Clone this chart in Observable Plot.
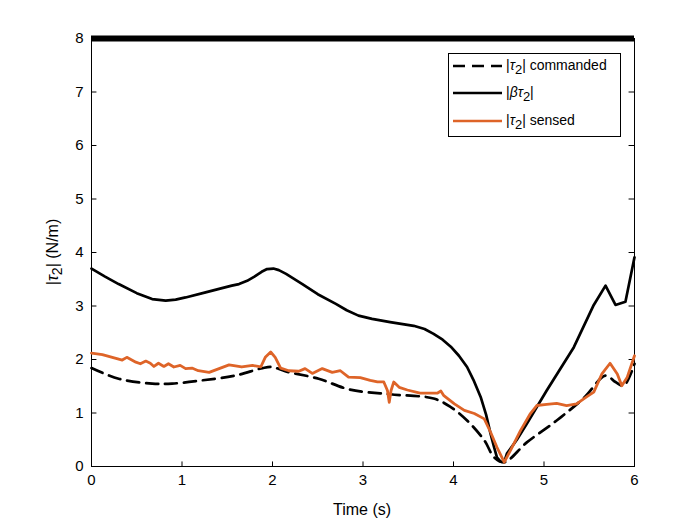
<!DOCTYPE html>
<html><head><meta charset="utf-8">
<script src="https://cdn.jsdelivr.net/npm/d3@7"></script>
<script src="https://cdn.jsdelivr.net/npm/@observablehq/plot@0.6"></script>
<style>
body{margin:0;background:#fff}
svg{font-family:"Liberation Sans",Arial,Helvetica,sans-serif}
</style>
</head><body><div id="chart"></div>
<script>
// Time ticks and value ticks
const xTicks = [0,1,2,3,4,5,6];
const yTicks = [0,1,2,3,4,5,6,7,8];
const upperLimit = [8];

// |beta tau2|
const betaT = [0,0.15,0.30,0.50,0.67,0.82,0.93,1.04,1.25,1.41,1.55,1.63,1.72,1.80,1.88,1.94,2.01,2.07,2.15,2.33,2.50,2.70,2.82,2.95,3.10,3.30,3.56,3.68,3.78,3.88,3.97,4.06,4.15,4.22,4.30,4.36,4.41,4.45,4.48,4.52,4.56,4.59,4.70,4.81,5.03,5.33,5.55,5.68,5.79,5.90,6.00];
const betaV = [3.70,3.55,3.41,3.24,3.13,3.10,3.12,3.16,3.25,3.32,3.38,3.41,3.47,3.55,3.64,3.69,3.70,3.67,3.60,3.41,3.22,3.04,2.92,2.82,2.76,2.70,2.63,2.57,2.48,2.37,2.24,2.07,1.86,1.62,1.30,0.97,0.61,0.35,0.17,0.09,0.08,0.24,0.50,0.80,1.42,2.23,3.02,3.38,3.02,3.08,3.91];

// |tau2| commanded
const cmdT = [0,0.30,0.67,0.89,1.22,1.59,1.89,2.00,2.14,2.51,2.85,3.30,3.78,3.97,4.15,4.34,4.45,4.56,4.81,5.14,5.44,5.68,5.79,5.88,6.00];
const cmdV = [1.84,1.64,1.55,1.55,1.61,1.70,1.84,1.86,1.78,1.64,1.44,1.35,1.27,1.11,0.86,0.49,0.17,0.08,0.45,0.86,1.28,1.70,1.58,1.51,1.92];

// |tau2| sensed
const senT = [0.00,0.12,0.23,0.34,0.39,0.49,0.54,0.60,0.65,0.69,0.74,0.80,0.85,0.91,0.98,1.04,1.11,1.18,1.30,1.41,1.52,1.59,1.66,1.78,1.87,1.92,1.98,2.03,2.09,2.18,2.29,2.36,2.44,2.55,2.66,2.75,2.84,2.97,3.08,3.16,3.23,3.27,3.29,3.31,3.34,3.40,3.49,3.63,3.82,3.86,3.89,4.01,4.12,4.23,4.34,4.41,4.48,4.56,4.63,4.74,4.85,4.92,5.03,5.14,5.25,5.36,5.47,5.55,5.64,5.73,5.81,5.86,5.92,6.00];
const senV = [2.12,2.09,2.04,1.99,2.04,1.95,1.92,1.97,1.93,1.87,1.93,1.87,1.92,1.86,1.89,1.83,1.84,1.79,1.76,1.83,1.90,1.88,1.86,1.89,1.86,2.04,2.14,2.04,1.84,1.79,1.78,1.83,1.74,1.83,1.76,1.79,1.67,1.66,1.61,1.58,1.58,1.42,1.20,1.42,1.58,1.48,1.43,1.37,1.37,1.41,1.33,1.17,1.05,0.99,0.89,0.64,0.36,0.08,0.30,0.67,0.99,1.14,1.16,1.18,1.14,1.17,1.30,1.39,1.73,1.93,1.73,1.51,1.67,2.07];

const orange = "#DE6428";
const beta = betaT.map((t,i)=>({t, v: betaV[i]}));
const cmd = cmdT.map((t,i)=>({t, v: cmdV[i]}));
const sen = senT.map((t,i)=>({t, v: senV[i]}));

const chart = Plot.plot({
  width: 700, height: 525,
  marginLeft: 91, marginRight: 66, marginTop: 38, marginBottom: 59,
  style: {fontFamily: '"Liberation Sans", Arial, sans-serif', color: "#000", background: "#fff"},
  x: {domain: [0,6]},
  y: {domain: [0,8]},
  marks: [
    Plot.frame({stroke: "#000", strokeWidth: 1}),
    Plot.axisX(xTicks, {tickSize: 0, tickPadding: 8, label: null, tickFormat: d3.format("d")}),
    Plot.axisY(yTicks, {tickSize: 0, tickPadding: 8, label: null, tickFormat: d3.format("d")}),
    Plot.ruleX(xTicks, {x: d=>d, y1: 0, y2: 0.085, stroke: "#000"}),
    Plot.ruleY(yTicks, {y: d=>d, x1: 0, x2: 0.06, stroke: "#000"}),
    Plot.ruleY(yTicks, {y: d=>d, x1: 5.94, x2: 6, stroke: "#000"}),
    Plot.line(cmd, {x: "t", y: "v", stroke: "#000", strokeWidth: 2.7, strokeDasharray: "12,7", curve: "catmull-rom"}),
    Plot.line(beta, {x: "t", y: "v", stroke: "#000", strokeWidth: 2.7}),
    Plot.line(sen, {x: "t", y: "v", stroke: orange, strokeWidth: 2.8}),
    Plot.ruleY(upperLimit, {y: d=>d, stroke: "#000", strokeWidth: 6})
  ]
});
document.getElementById("chart").append(chart);

const svg = d3.select(chart);
// enlarge the tick labels (only texts present so far)
svg.selectAll("text").style("font-size", "15px").attr("font-size", 15);
svg.selectAll("g").filter(function(){ return this.getAttribute("font-size"); }).attr("font-size", 15);

// axis labels
svg.append("text").attr("x", 362).attr("y", 515).attr("text-anchor","middle")
  .style("font-size", "16px").attr("fill","#000").text("Time (s)");
const yl = svg.append("text").attr("transform","translate(58,252) rotate(-90)")
  .attr("text-anchor","middle").style("font-size","16px").attr("fill","#000");
yl.append("tspan").text("|");
yl.append("tspan").attr("font-style","italic").text("τ");
yl.append("tspan").attr("dy",4).style("font-size","14px").text("2");
yl.append("tspan").attr("dy",-4).text("| (N/m)");

// legend
const lg = svg.append("g").attr("text-anchor","start");
lg.append("rect").attr("x",448.5).attr("y",53.5).attr("width",172).attr("height",83)
  .attr("fill","#fff").attr("stroke","#000").attr("stroke-width",1);
const rows = [
  {y: 66, dash: "12,7", color: "#000", pre: "|", greek: "τ", post: "| commanded"},
  {y: 93, dash: null, color: "#000", pre: "|", greek: "βτ", post: "|"},
  {y: 121, dash: null, color: orange, pre: "|", greek: "τ", post: "| sensed"}
];
for (const r of rows) {
  const l = lg.append("line").attr("x1",453).attr("x2",502).attr("y1",r.y).attr("y2",r.y)
    .attr("stroke",r.color).attr("stroke-width",2.7);
  if (r.dash) l.attr("stroke-dasharray", r.dash);
  const t = lg.append("text").attr("x",506).attr("y",r.y+4).attr("text-anchor","start")
    .style("font-size","14px").attr("fill","#000");
  t.append("tspan").text(r.pre);
  t.append("tspan").attr("font-style","italic").text(r.greek);
  t.append("tspan").attr("dy",4).style("font-size","13px").text("2");
  t.append("tspan").attr("dy",-4).text(r.post);
}
</script>
</body></html>
